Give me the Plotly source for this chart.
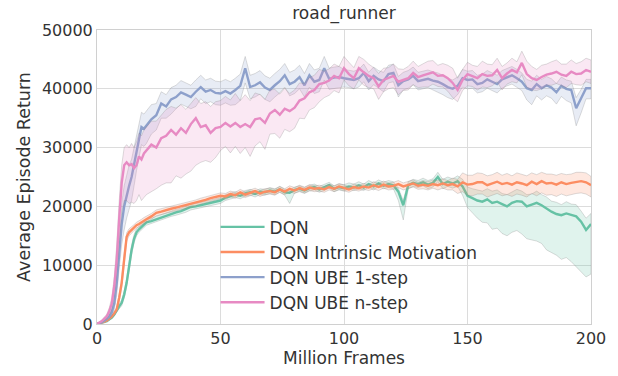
import plotly.graph_objects as go

# Training frames (millions): dense at the start, every 2M afterwards
frames = list(range(0, 20)) + list(range(20, 201, 2))

# Average episode return (thousands) per agent, with lower/upper band offsets
dqn_mean = [0, 0.1, 0.2, 0.3, 0.5, 0.8, 1.1, 1.6, 2.4, 3.0, 3.6, 5.0, 7.0, 9.8, 12.6, 14.5, 15.6, 16.1, 16.5, 16.9,
            17.3, 17.5, 17.8, 18.1, 18.5, 18.8, 19.0, 19.2, 19.5, 19.9,
            20.0, 20.2, 20.4, 20.6, 20.8, 21.0, 21.5, 21.8, 22.0, 21.8,
            22.2, 22.4, 22.1, 22.5, 22.4, 22.7, 22.5, 22.9, 22.4, 22.3,
            22.8, 23.0, 22.7, 23.1, 23.3, 22.9, 23.2, 23.6, 23.0, 23.3,
            23.1, 23.4, 23.2, 23.6, 23.2, 23.8, 23.4, 23.9, 23.5, 23.8,
            23.6, 22.5, 20.2, 23.6, 24.0, 23.8, 24.1, 23.7, 24.0, 25.0,
            23.8, 24.2, 23.9, 24.3, 23.4, 21.8, 21.4, 21.0, 20.8, 21.2,
            20.6, 20.8, 20.4, 20.0, 20.6, 20.9, 20.8, 20.0, 20.3, 20.6,
            20.2, 19.6, 19.1, 18.7, 18.5, 18.8, 18.6, 18.3, 17.4, 16.0,
            17.0]
dqn_lo = [0, 0, 0, 0.1, 0.1, 0.1, 0.2, 0.2, 0.3, 0.4, 0.5, 0.6, 0.7, 0.8, 0.8, 0.7, 0.6, 0.5, 0.5, 0.5,
          0.5, 0.5, 0.5, 0.5, 0.5, 0.5, 0.5, 0.5, 0.5, 0.5,
          0.5, 0.5, 0.5, 0.5, 0.5, 0.5, 0.5, 0.5, 0.5, 0.5,
          0.5, 0.5, 0.5, 0.5, 0.5, 0.5, 0.5, 0.5, 0.5, 1.8,
          0.5, 0.5, 0.5, 0.5, 0.5, 0.5, 0.5, 0.5, 0.5, 0.5,
          0.5, 0.5, 0.5, 0.6, 0.5, 0.5, 0.6, 0.5, 0.5, 0.6,
          0.6, 1.5, 2.5, 0.6, 0.6, 0.6, 0.6, 0.7, 0.7, 0.8,
          0.8, 0.8, 0.8, 0.9, 1.5, 2.0, 2.5, 3.0, 3.5, 4.0,
          4.5, 4.5, 5.0, 5.0, 5.0, 5.0, 5.5, 5.5, 6.0, 6.5,
          6.5, 7.0, 7.0, 7.0, 7.5, 7.5, 8.0, 8.5, 8.5, 8.0,
          8.5]
dqn_hi = [0, 0, 0, 0.1, 0.1, 0.1, 0.2, 0.2, 0.3, 0.4, 0.5, 0.6, 0.7, 0.8, 0.8, 0.7, 0.6, 0.5, 0.5, 0.5,
          0.5, 0.5, 0.5, 0.5, 0.5, 0.5, 0.5, 0.5, 0.5, 0.5,
          0.5, 0.5, 0.5, 0.5, 0.5, 0.5, 0.5, 0.5, 0.5, 0.5,
          0.5, 0.5, 0.5, 0.5, 0.5, 0.5, 0.5, 0.5, 0.5, 0.5,
          0.5, 0.5, 0.5, 0.5, 0.5, 0.5, 0.5, 0.5, 0.5, 0.5,
          0.6, 0.6, 0.6, 0.6, 0.6, 0.6, 0.6, 0.6, 0.6, 0.6,
          0.6, 0.6, 0.8, 0.6, 0.6, 0.6, 0.7, 0.7, 0.7, 0.8,
          0.8, 0.8, 0.8, 0.9, 1.2, 1.5, 1.6, 1.8, 1.8, 1.8,
          2.0, 2.0, 1.8, 2.0, 1.8, 2.0, 1.8, 2.0, 1.8, 2.0,
          1.8, 2.0, 1.8, 2.0, 1.8, 2.0, 1.8, 2.0, 1.8, 2.0,
          1.8]

im_mean = [0, 0.1, 0.2, 0.4, 0.6, 0.9, 1.3, 1.8, 2.5, 4.5, 7.0, 11.0, 14.8, 15.6, 16.0, 16.4, 16.8, 17.0, 17.3, 17.6,
           17.8, 18.3, 18.9, 19.1, 19.4, 19.6, 19.8, 20.0, 20.2, 20.4,
           20.6, 20.9, 21.1, 21.4, 21.6, 21.8, 21.7, 22.1, 21.9, 22.4,
           22.0, 22.3, 22.6, 22.2, 22.5, 22.6, 22.4, 22.9, 22.5, 23.0,
           22.7, 23.1, 22.8, 23.2, 23.0, 23.1, 22.9, 23.3, 23.0, 23.4,
           23.2, 22.9, 23.3, 23.1, 23.4, 23.2, 23.6, 23.3, 23.7, 23.4,
           23.5, 23.8, 23.4, 23.6, 23.9, 23.5, 23.7, 23.5, 23.8, 23.6,
           23.9, 23.6, 23.8, 23.4, 24.1, 23.7, 23.8, 24.1, 24.1, 23.6,
           23.9, 24.2, 23.8, 24.0, 23.7, 24.1, 23.9, 23.6, 24.2, 23.8,
           24.3, 23.9, 24.0, 23.7, 24.1, 23.8, 24.0, 24.2, 24.3, 24.1,
           23.6]
im_lo = [0, 0, 0, 0.1, 0.1, 0.2, 0.2, 0.3, 0.4, 0.6, 0.8, 0.8, 0.7, 0.6, 0.5, 0.5, 0.5, 0.5, 0.5, 0.5,
         0.5, 0.5, 0.5, 0.5, 0.5, 0.5, 0.5, 0.5, 0.5, 0.5,
         0.5, 0.5, 0.5, 0.5, 0.5, 0.5, 0.5, 0.5, 0.5, 0.5,
         0.5, 0.5, 0.5, 0.5, 0.5, 0.5, 0.5, 0.5, 0.5, 0.5,
         0.5, 0.5, 0.5, 0.5, 0.5, 0.5, 0.5, 0.5, 0.5, 0.5,
         0.5, 0.5, 0.5, 0.5, 0.5, 0.5, 0.6, 0.6, 0.6, 0.6,
         0.6, 0.6, 0.6, 0.6, 0.6, 0.6, 0.7, 0.7, 0.7, 0.8,
         0.8, 0.8, 1.0, 1.2, 1.6, 1.8, 2.0, 2.0, 2.0, 2.0,
         2.0, 2.0, 2.0, 2.0, 2.0, 2.0, 2.0, 2.0, 2.0, 2.0,
         2.0, 2.0, 2.0, 2.0, 2.0, 2.0, 2.0, 2.0, 2.0, 2.0,
         2.0]
im_hi = [0, 0, 0, 0.1, 0.1, 0.2, 0.2, 0.3, 0.4, 0.6, 0.8, 0.8, 0.7, 0.6, 0.5, 0.5, 0.5, 0.5, 0.5, 0.5,
         0.5, 0.5, 0.5, 0.5, 0.5, 0.5, 0.5, 0.5, 0.5, 0.5,
         0.5, 0.5, 0.5, 0.5, 0.5, 0.5, 0.5, 0.5, 0.5, 0.5,
         0.5, 0.5, 0.5, 0.5, 0.5, 0.5, 0.5, 0.5, 0.5, 0.5,
         0.5, 0.5, 0.5, 0.5, 0.5, 0.5, 0.5, 0.5, 0.5, 0.5,
         0.5, 0.5, 0.5, 0.5, 0.5, 0.5, 0.6, 0.6, 0.6, 0.6,
         0.6, 0.6, 0.6, 0.6, 0.6, 0.6, 0.7, 0.7, 0.7, 0.8,
         0.8, 0.8, 1.0, 1.2, 1.6, 1.6, 1.5, 1.6, 1.5, 1.6,
         1.5, 1.6, 1.5, 1.6, 1.5, 1.6, 1.5, 1.6, 1.5, 1.6,
         1.5, 1.6, 1.5, 1.6, 1.5, 1.6, 1.5, 1.6, 1.5, 1.6,
         1.5]

ube1_mean = [0, 0.1, 0.3, 0.6, 0.9, 1.3, 2.0, 3.5, 7.0, 12.6, 17.0, 20.0, 22.0, 23.5, 25.0, 27.0, 29.6, 31.5, 33.5, 33.2,
             33.7, 34.8, 35.5, 37.5, 37.0, 38.2, 38.6, 39.4, 39.0, 38.6,
             39.5, 40.3, 39.5, 39.8, 39.3, 39.2, 39.6, 39.2, 39.8, 40.5,
             43.5, 40.3, 40.6, 41.1, 40.2, 39.8, 40.6, 41.3, 42.3, 40.8,
             41.2, 42.0, 40.6, 42.3, 41.2, 41.5, 43.5, 41.7, 41.9, 42.0,
             41.8, 41.7, 41.5, 41.8, 42.7, 41.3, 42.2, 41.6, 41.3, 42.5,
             42.7, 40.6, 41.3, 41.6, 42.2, 41.3, 41.5, 41.7, 41.4, 41.2,
             40.8, 40.3, 40.0, 40.5, 41.8, 41.5, 41.6, 40.8, 41.0, 41.6,
             41.2, 40.8, 41.6, 42.0, 42.3, 41.8, 41.2, 40.1, 39.8, 40.8,
             40.1, 40.6, 40.2, 39.4, 40.5, 40.0, 39.8, 36.7, 38.4, 40.1,
             40.1]
ube1_lo = [0, 0, 0.1, 0.2, 0.3, 0.4, 0.6, 1.0, 2.0, 3.0, 3.5, 4.0, 4.0, 4.0, 4.0, 3.5, 3.5, 3.0, 3.0, 3.0,
           3.0, 2.5, 2.5, 2.5, 2.0, 2.5, 2.0, 2.0, 2.0, 2.0,
           2.5, 2.0, 2.0, 2.0, 2.0, 2.0, 2.0, 2.0, 2.5, 2.5,
           2.5, 2.0, 2.0, 2.0, 2.0, 2.0, 2.0, 2.0, 2.0, 2.0,
           2.0, 2.0, 2.0, 2.0, 2.0, 2.0, 2.0, 1.8, 1.8, 1.8,
           1.5, 1.5, 1.5, 1.5, 1.5, 1.5, 1.5, 1.5, 1.8, 1.5,
           1.5, 2.0, 1.5, 1.5, 1.5, 1.5, 1.5, 1.5, 1.5, 1.8,
           1.8, 1.8, 1.8, 1.5, 1.5, 1.5, 1.5, 1.5, 1.5, 1.5,
           1.5, 1.5, 1.5, 1.5, 1.5, 1.5, 1.5, 2.0, 2.5, 2.0,
           2.0, 1.8, 1.8, 2.0, 1.8, 2.0, 2.2, 3.0, 2.5, 1.8,
           1.8]
ube1_hi = [0, 0, 0.1, 0.2, 0.3, 0.4, 0.6, 1.0, 2.0, 3.0, 3.5, 3.5, 3.5, 3.5, 3.0, 3.0, 3.0, 2.5, 2.5, 2.5,
           2.5, 2.5, 2.0, 2.0, 2.0, 2.0, 2.0, 2.0, 2.0, 2.0,
           2.0, 2.0, 2.0, 2.0, 2.0, 2.0, 2.0, 2.0, 2.0, 2.0,
           2.0, 2.0, 2.0, 2.0, 2.0, 2.0, 2.0, 2.0, 2.0, 2.0,
           2.0, 2.0, 2.0, 2.0, 2.0, 2.0, 2.0, 1.8, 1.8, 1.8,
           1.5, 1.5, 1.5, 1.5, 1.5, 1.5, 1.5, 1.5, 1.5, 1.5,
           1.5, 1.5, 1.5, 1.5, 1.5, 1.5, 1.5, 1.5, 1.5, 1.5,
           1.5, 1.5, 1.5, 1.5, 1.5, 1.5, 1.5, 1.5, 1.5, 1.5,
           1.5, 1.5, 1.5, 1.5, 1.5, 1.5, 1.5, 1.5, 1.5, 1.5,
           1.5, 1.5, 1.5, 1.5, 1.5, 1.5, 1.5, 1.8, 1.5, 1.5,
           1.5]

uben_mean = [0, 0.2, 0.5, 0.9, 1.3, 2.2, 3.5, 6.5, 11.0, 18.0, 24.0, 27.0, 27.5, 27.0, 27.2, 26.5, 27.0, 28.5, 28.0, 29.0,
             29.5, 30.5, 30.0, 31.6, 32.0, 33.0, 32.2, 33.3, 32.5, 34.0,
             35.0, 33.5, 33.8, 32.5, 33.3, 33.5, 34.2, 33.6, 34.2, 33.5,
             34.0, 33.5, 34.8, 35.0, 34.2, 35.8, 36.4, 35.6, 36.6, 36.2,
             36.8, 38.0, 38.4, 39.4, 39.8, 40.8, 41.0, 41.4, 42.2, 41.8,
             43.5, 42.5, 41.8, 43.5, 42.8, 42.2, 41.8, 40.4, 41.5, 41.8,
             42.2, 41.2, 41.5, 41.8, 42.7, 42.0, 42.3, 42.5, 42.8, 42.2,
             42.3, 41.8, 41.0, 39.8, 41.5, 42.5, 42.2, 41.8, 42.5, 42.2,
             42.3, 43.2, 41.8, 42.6, 43.2, 42.8, 44.4, 42.5, 41.8, 41.5,
             42.0, 42.4, 42.6, 42.9, 42.4, 42.2, 42.9, 42.5, 42.6, 43.2,
             42.9]
uben_lo = [0, 0.1, 0.2, 0.3, 0.4, 0.6, 1.0, 1.5, 2.5, 4.0, 5.0, 6.0, 6.5, 6.5, 6.5, 6.0, 6.0, 6.5, 7.0, 7.5,
           7.5, 8.0, 7.0, 8.0, 8.0, 9.0, 7.0, 8.5, 7.0, 8.0,
           8.0, 6.0, 6.0, 5.0, 5.0, 4.0, 4.0, 4.5, 4.0, 4.5,
           4.0, 5.0, 4.5, 4.0, 4.5, 3.5, 4.0, 4.0, 3.5, 3.5,
           3.5, 3.0, 3.5, 3.0, 3.0, 3.0, 2.5, 2.5, 2.5, 2.5,
           2.0, 2.0, 1.8, 2.0, 2.2, 2.0, 1.8, 2.2, 2.0, 1.8,
           2.0, 2.2, 1.8, 2.0, 2.0, 1.8, 2.0, 2.2, 2.0, 1.8,
           2.0, 2.2, 2.5, 2.0, 1.8, 2.0, 1.8, 2.0, 2.2, 2.0,
           1.8, 2.0, 2.0, 1.8, 2.0, 1.8, 2.0, 2.2, 2.0, 1.8,
           2.0, 1.8, 2.0, 2.0, 1.8, 2.0, 2.0, 1.8, 2.0, 2.0,
           2.0]
uben_hi = [0, 0.1, 0.2, 0.3, 0.4, 0.6, 1.0, 1.5, 2.5, 3.0, 3.0, 3.0, 3.0, 3.0, 3.5, 3.5, 4.0, 4.0, 4.0, 4.0,
           4.0, 4.0, 4.5, 4.0, 4.5, 4.0, 4.5, 4.0, 4.0, 3.5,
           3.5, 4.0, 4.0, 4.5, 4.5, 4.5, 4.5, 4.5, 5.0, 4.5,
           5.0, 4.5, 4.5, 4.0, 4.0, 4.0, 3.5, 3.5, 3.5, 3.0,
           3.0, 3.0, 2.5, 2.5, 2.5, 2.5, 2.0, 2.0, 2.0, 2.0,
           2.0, 2.0, 1.8, 2.0, 2.2, 2.0, 1.8, 2.2, 2.0, 1.8,
           2.0, 2.2, 1.8, 2.0, 2.0, 1.8, 2.0, 2.2, 2.0, 1.8,
           2.0, 2.2, 2.5, 2.0, 1.8, 2.0, 1.8, 2.0, 2.2, 2.0,
           1.8, 2.0, 2.0, 1.8, 2.0, 1.8, 2.0, 2.2, 2.0, 1.8,
           2.0, 1.8, 2.0, 2.0, 1.8, 2.0, 2.0, 1.8, 2.0, 2.0,
           2.0]

series = [
    ("DQN", dqn_mean, dqn_lo, dqn_hi, (102, 194, 165)),
    ("DQN Intrinsic Motivation", im_mean, im_lo, im_hi, (252, 141, 98)),
    ("DQN UBE 1-step", ube1_mean, ube1_lo, ube1_hi, (141, 160, 203)),
    ("DQN UBE n-step", uben_mean, uben_lo, uben_hi, (231, 138, 195)),
]

fig = go.Figure()
for name, mean, lo, hi, (r, g, b) in series:
    assert len(mean) == len(lo) == len(hi) == len(frames), name
    upper = [(m + h) * 1000 for m, h in zip(mean, hi)]
    lower = [(m - l) * 1000 for m, l in zip(mean, lo)]
    fig.add_trace(go.Scatter(
        x=frames + frames[::-1], y=upper + lower[::-1],
        fill="toself", fillcolor=f"rgba({r},{g},{b},0.2)",
        line=dict(color="rgba(130,130,130,0.35)", width=0.8),
        hoverinfo="skip", showlegend=False,
    ))
    fig.add_trace(go.Scatter(
        x=frames, y=[m * 1000 for m in mean], mode="lines", name=name,
        line=dict(color=f"rgb({r},{g},{b})", width=2.4),
    ))

font = dict(family="DejaVu Sans", color="#333333")
axis_common = dict(
    showgrid=True, gridcolor="#dcdcdc", gridwidth=1,
    showline=True, linecolor="#d0d0d0", linewidth=1, mirror=True,
    zeroline=False, ticks="", tickfont=dict(size=16, **font),
)

fig.update_layout(
    width=618, height=376,
    margin=dict(l=97, r=18, t=30, b=52),
    paper_bgcolor="white", plot_bgcolor="white",
    font=font,
    title=dict(text="road_runner", x=0.5, xref="paper", y=0.966, yref="container",
               yanchor="middle", font=dict(size=17, **font)),
    xaxis=dict(range=[0, 200], tickvals=[0, 50, 100, 150, 200],
               title=dict(text="Million Frames", font=dict(size=17, **font), standoff=3),
               **axis_common),
    yaxis=dict(range=[0, 50000], tickvals=[0, 10000, 20000, 30000, 40000, 50000],
               tickformat="d",
               title=dict(text="Average Episode Return", font=dict(size=17.5, **font), standoff=6),
               **axis_common),
    legend=dict(x=0.24, y=0.39, xanchor="left", yanchor="top",
                bgcolor="rgba(0,0,0,0)", font=dict(size=17, **font),
                itemwidth=44, tracegroupgap=0),
    showlegend=True,
)

fig.write_html("out.html")
